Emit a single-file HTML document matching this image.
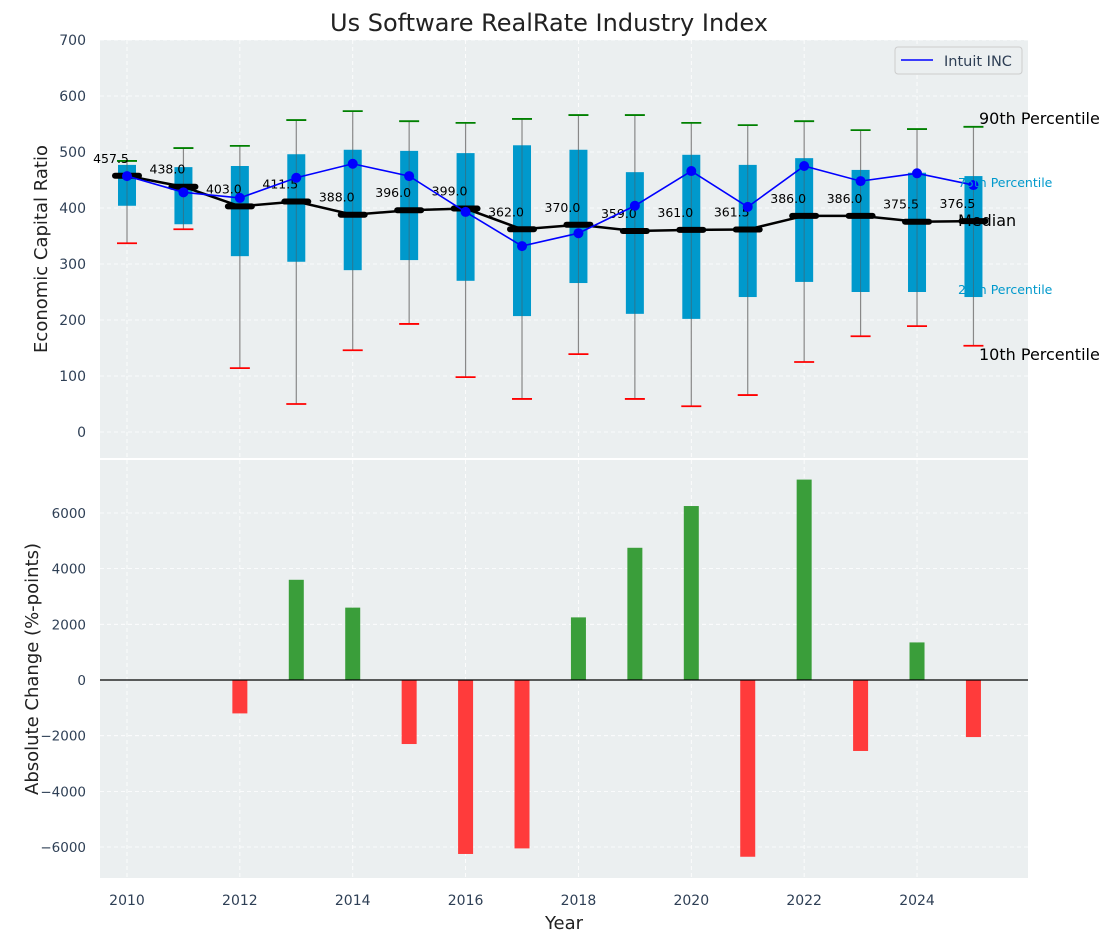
<!DOCTYPE html>
<html><head><meta charset="utf-8"><style>
body{margin:0;background:#fff;}
svg{display:block;font-family:"DejaVu Sans","Liberation Sans",sans-serif;}
</style></head><body>
<svg id="c" width="1114" height="942" xmlns="http://www.w3.org/2000/svg"></svg>
<script>
const years=[2010,2011,2012,2013,2014,2015,2016,2017,2018,2019,2020,2021,2022,2023,2024,2025];
const p90=[484,507,511,557,573,555,552,559,566,566,552,548,555,539,541,545];
const p75=[477,473,475,496,504,502,498,512,504,464,495,477,489,468,463,457];
const median=[457.5,438.0,403.0,411.5,388.0,396.0,399.0,362.0,370.0,359.0,361.0,361.5,386.0,386.0,375.5,376.5];
const p25=[404,371,314,304,289,307,270,207,266,211,202,241,268,250,250,241];
const p10=[337,362,114,50,146,193,98,59,139,59,46,66,125,171,189,154];
const intuit=[457,428,418,454,479,457,393,332,355,404,466,402,475,448,462,441];
const change=[0,0,-1200,3600,2600,-2300,-6250,-6050,2250,4750,6250,-6350,7200,-2550,1350,-2050];
const topTicks=[0,100,200,300,400,500,600,700];
const botTicks=[-6000,-4000,-2000,0,2000,4000,6000];
const xTicks=[2010,2012,2014,2016,2018,2020,2022,2024];

const svg=document.getElementById('c');
const NS='http://www.w3.org/2000/svg';
function mk(tag,attrs,parent){const e=document.createElementNS(NS,tag);for(const k in attrs)e.setAttribute(k,attrs[k]);(parent||svg).appendChild(e);return e;}
const X=y=>127+(y-2010)*56.43;
const YT=v=>432-0.56*v;
const YB=v=>680-v*0.027835;
const L=100,R=1028;
const fmt=v=>(v<0?'\u2212':'')+Math.abs(v);

let e;
e=mk('rect',{x:L,y:40,width:R-L,height:418,fill:'#ebeff0'});

e=mk('rect',{x:L,y:460,width:R-L,height:418,fill:'#ebeff0'});


xTicks.forEach(t=>{
 [[40,458],[460,878]].forEach(r=>{mk('line',{x1:X(t),x2:X(t),y1:r[0],y2:r[1],stroke:'#fff','stroke-dasharray':'4,3','stroke-width':0.8});});
 e=mk('text',{x:X(t),y:905,'text-anchor':'middle','font-size':14,fill:'#2e3f55'});e.textContent=t;
 
});
topTicks.forEach(t=>{
 mk('line',{x1:L,x2:R,y1:YT(t),y2:YT(t),stroke:'#fff','stroke-dasharray':'4,3','stroke-width':0.8});
 e=mk('text',{x:86,y:YT(t)+5,'text-anchor':'end','font-size':14,fill:'#2e3f55'});e.textContent=fmt(t);
 
});
botTicks.forEach(t=>{
 mk('line',{x1:L,x2:R,y1:YB(t),y2:YB(t),stroke:'#fff','stroke-dasharray':'4,3','stroke-width':0.8});
 e=mk('text',{x:86,y:YB(t)+5,'text-anchor':'end','font-size':13.5,fill:'#2e3f55'});e.textContent=fmt(t);
 
});

years.forEach((y,i)=>{
 const x=X(y);
 e=mk('line',{x1:x,x2:x,y1:YT(p90[i]),y2:YT(p10[i]),stroke:'#888','stroke-width':1.2});
 
 e=mk('rect',{x:x-9,y:YT(p75[i]),width:18,height:YT(p25[i])-YT(p75[i]),fill:'#0099cc'});
 
 mk('line',{x1:x,x2:x,y1:YT(p75[i]),y2:YT(p25[i]),stroke:'#555','stroke-width':1,opacity:0.5});
 e=mk('line',{x1:x-10,x2:x+10,y1:YT(p90[i]),y2:YT(p90[i]),stroke:'green','stroke-width':1.8});
 
 e=mk('line',{x1:x-10,x2:x+10,y1:YT(p10[i]),y2:YT(p10[i]),stroke:'red','stroke-width':1.8});
 
});
e=mk('polyline',{points:years.map((y,i)=>X(y)+','+YT(median[i])).join(' '),fill:'none',stroke:'#000','stroke-width':2.5});

years.forEach((y,i)=>{
 e=mk('line',{x1:X(y)-12,x2:X(y)+12,y1:YT(median[i]),y2:YT(median[i]),stroke:'#000','stroke-width':6,'stroke-linecap':'round'});
 
 e=mk('text',{x:X(y)-16,y:YT(median[i])-13,'text-anchor':'middle','font-size':12.5,fill:'#000'});e.textContent=median[i].toFixed(1);
 
});
e=mk('polyline',{points:years.map((y,i)=>X(y)+','+YT(intuit[i])).join(' '),fill:'none',stroke:'#0000ff','stroke-width':1.6});

years.forEach((y,i)=>{
 e=mk('circle',{cx:X(y),cy:YT(intuit[i]),r:5,fill:'#0000ff'});
 
});
[['90th Percentile',979,124,16,'#000'],['75th Percentile',958,187,12.5,'#0099cc'],['Median',958,226,16,'#000'],['25th Percentile',958,294,12.5,'#0099cc'],['10th Percentile',979,360,16,'#000']].forEach(a=>{
 e=mk('text',{x:a[1],y:a[2],'font-size':a[3],fill:a[4]});e.textContent=a[0];
 
});
const lg=mk('g',{});
mk('rect',{x:895,y:47,width:127,height:27,rx:3,fill:'#ebeff0',stroke:'#ccc'},lg);
mk('line',{x1:901,x2:933,y1:60,y2:60,stroke:'#0000ff','stroke-width':1.6},lg);
e=mk('text',{x:944,y:66,'font-size':14.5,fill:'#2e3f55'},lg);e.textContent='Intuit INC';
years.forEach((y,i)=>{
 const v=change[i];if(v===0)return;
 const y0=YB(Math.max(v,0)),y1=YB(Math.min(v,0));
 e=mk('rect',{x:X(y)-7.5,y:y0,width:15,height:y1-y0,fill:v>0?'#3a9e3a':'#ff3b3b'});
 
});
mk('line',{x1:L,x2:R,y1:YB(0),y2:YB(0),stroke:'#000','stroke-width':1.2});
e=mk('text',{x:549,y:31,'text-anchor':'middle','font-size':24,fill:'#222'});e.textContent='Us Software RealRate Industry Index';

e=mk('text',{x:564,y:929,'text-anchor':'middle','font-size':18,fill:'#222'});e.textContent='Year';

e=mk('text',{x:0,y:0,'text-anchor':'middle','font-size':18,fill:'#222',transform:'translate(47,249) rotate(-90)'});e.textContent='Economic Capital Ratio';

e=mk('text',{x:0,y:0,'text-anchor':'middle','font-size':18,fill:'#222',transform:'translate(38,669) rotate(-90)'});e.textContent='Absolute Change (%-points)';

</script>
</body></html>
